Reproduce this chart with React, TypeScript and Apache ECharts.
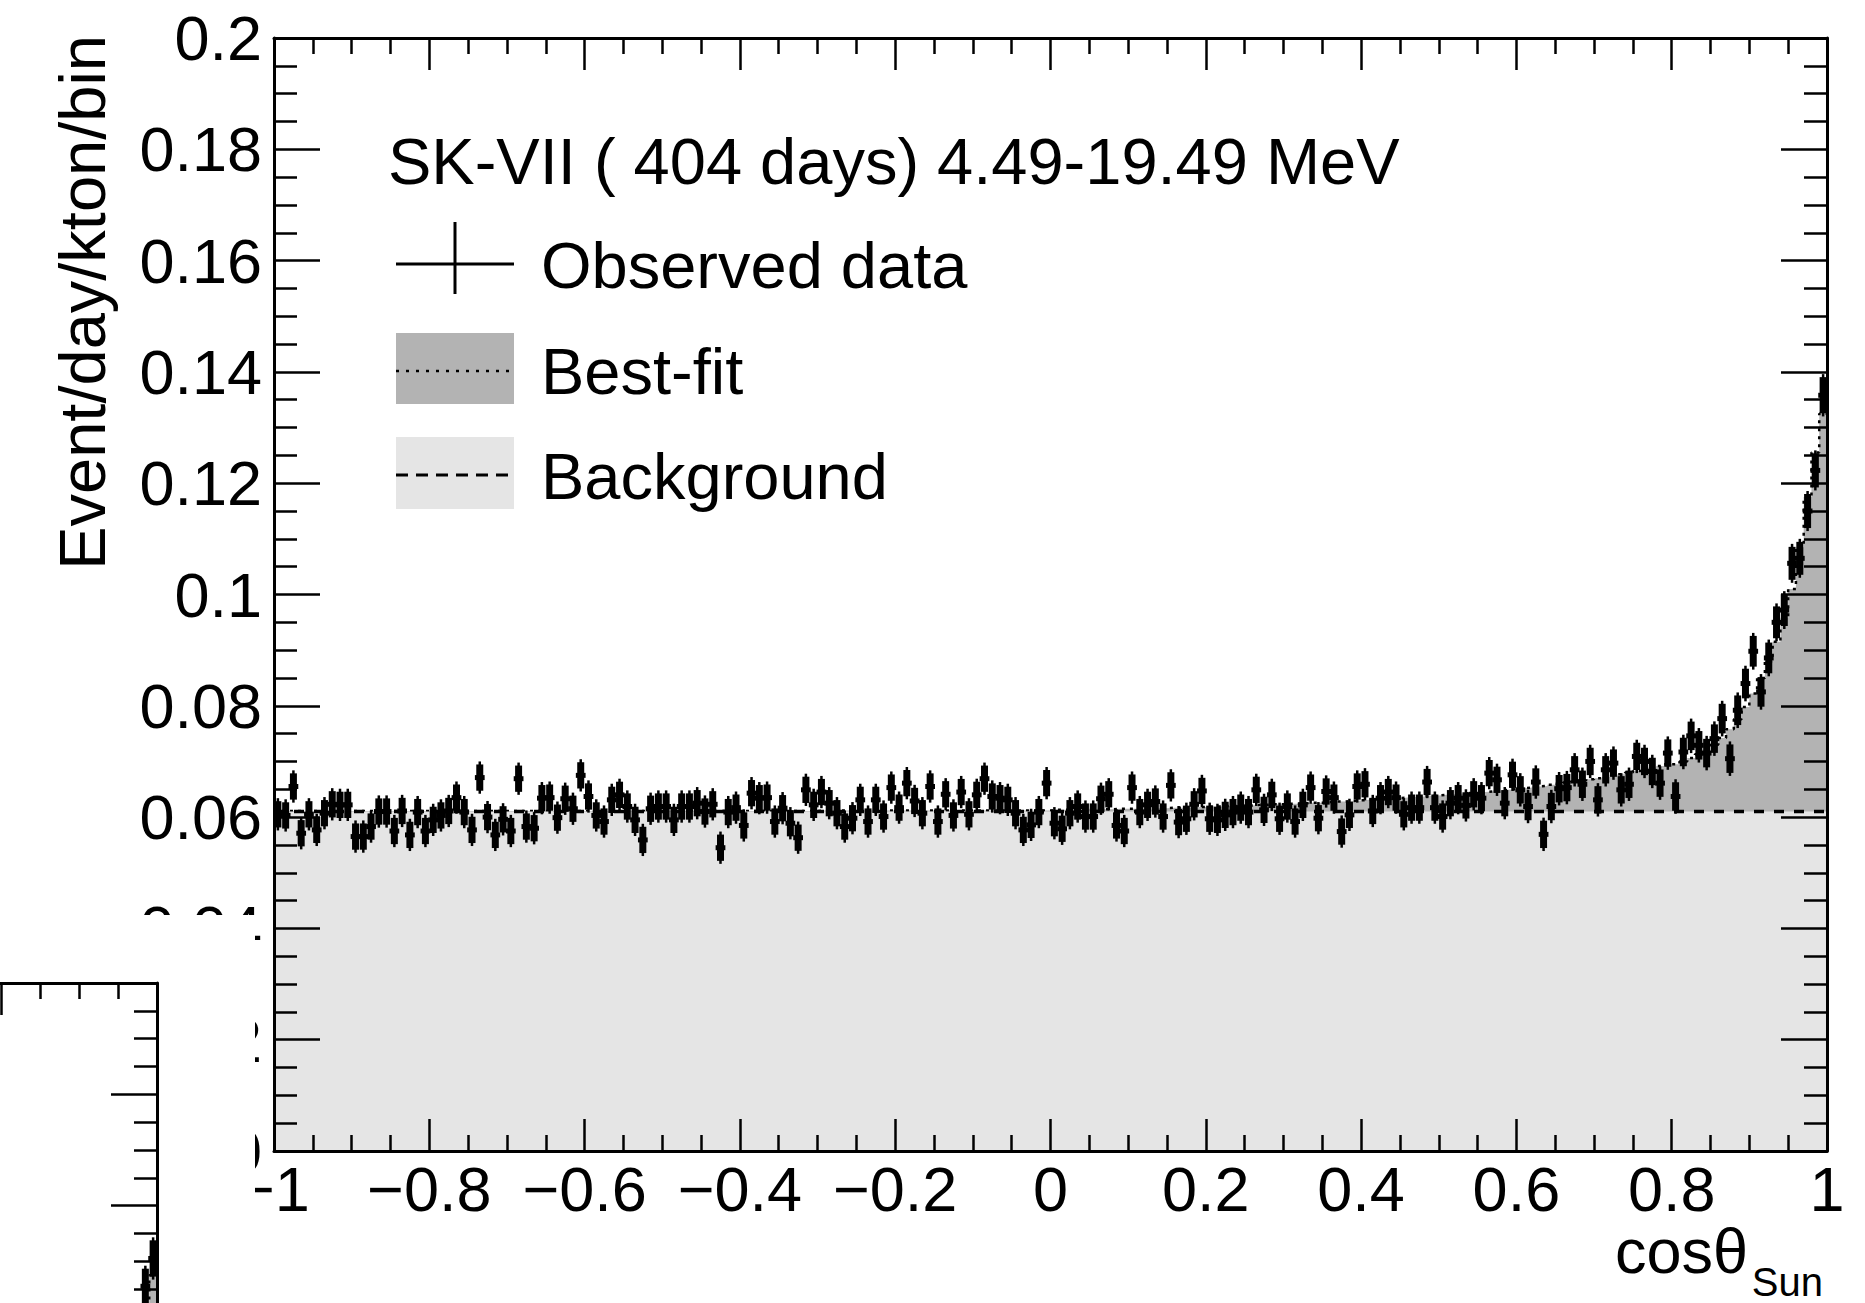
import React, { useEffect, useRef } from "react";
import * as echarts from "echarts";

// ---------------- data ----------------
const BIN_MIN = -1;
const BIN_MAX = 1;
const BIN_WIDTH = 0.01;

// Observed event rate per bin (200 bins from -1 to 1)
const observed = [
  0.0605, 0.0603, 0.0655, 0.0571, 0.0605, 0.0577, 0.0607, 0.0623, 0.0622, 0.0622,
  0.0565, 0.0565, 0.0583, 0.061, 0.061, 0.0575, 0.0611, 0.0568, 0.0609, 0.0575,
  0.0595, 0.0603, 0.0611, 0.0635, 0.0609, 0.0577, 0.0671, 0.06, 0.0568, 0.0596,
  0.0575, 0.0669, 0.0583, 0.058, 0.0634, 0.0635, 0.0599, 0.0633, 0.0615, 0.0675,
  0.0637, 0.0603, 0.0592, 0.0631, 0.064, 0.0619, 0.0595, 0.0559, 0.0615, 0.0619,
  0.0619, 0.0595, 0.0619, 0.0619, 0.0625, 0.061, 0.0623, 0.0545, 0.0609, 0.0617,
  0.0585, 0.0643, 0.0634, 0.0635, 0.0592, 0.0616, 0.0589, 0.0563, 0.0649, 0.0622,
  0.0645, 0.0625, 0.0607, 0.0583, 0.0598, 0.0631, 0.0592, 0.0631, 0.0601, 0.0653,
  0.0617, 0.0661, 0.0629, 0.0607, 0.0655, 0.0592, 0.0641, 0.0603, 0.0645, 0.0605,
  0.064, 0.0669, 0.0637, 0.0634, 0.0631, 0.0607, 0.0577, 0.0586, 0.0609, 0.0661,
  0.0589, 0.0579, 0.0607, 0.0619, 0.0601, 0.0601, 0.0633, 0.0641, 0.0585, 0.0575,
  0.0653, 0.0609, 0.0622, 0.0628, 0.0601, 0.0657, 0.0591, 0.0597, 0.0623, 0.0647,
  0.0597, 0.0595, 0.0604, 0.0609, 0.0617, 0.0609, 0.0649, 0.0613, 0.064, 0.0597,
  0.0619, 0.0592, 0.0622, 0.0653, 0.0598, 0.0646, 0.0635, 0.0574, 0.0604, 0.0655,
  0.0659, 0.0611, 0.0634, 0.0645, 0.0635, 0.0605, 0.0617, 0.0617, 0.0663, 0.0617,
  0.0601, 0.0625, 0.0634, 0.0621, 0.0641, 0.0634, 0.0679, 0.0667, 0.0625, 0.0676,
  0.0649, 0.0619, 0.0663, 0.0569, 0.0619, 0.0651, 0.0653, 0.0685, 0.0659, 0.07,
  0.0631, 0.0685, 0.0697, 0.0649, 0.0659, 0.0709, 0.07, 0.0682, 0.0661, 0.0715,
  0.0637, 0.0717, 0.0746, 0.0729, 0.0715, 0.0741, 0.0777, 0.0705, 0.0792, 0.084,
  0.0898, 0.0825, 0.0886, 0.095, 0.0972, 0.1056, 0.1065, 0.115, 0.1223, 0.1358,
];

// Statistical error (half length of the vertical bar) per bin
const observedError = [
  0.0029, 0.0029, 0.0029, 0.0029, 0.0029, 0.0029, 0.0029, 0.0029, 0.0029, 0.0029,
  0.0029, 0.0029, 0.0029, 0.0029, 0.0029, 0.0029, 0.0029, 0.0029, 0.0029, 0.0029,
  0.0029, 0.0029, 0.0029, 0.0029, 0.0029, 0.0029, 0.0029, 0.0029, 0.0029, 0.0029,
  0.0029, 0.0029, 0.0029, 0.0029, 0.0029, 0.0029, 0.0029, 0.0029, 0.0029, 0.0029,
  0.0029, 0.0029, 0.0029, 0.0029, 0.0029, 0.0029, 0.0029, 0.0029, 0.0029, 0.0029,
  0.0029, 0.0029, 0.0029, 0.0029, 0.0029, 0.0029, 0.0029, 0.0029, 0.0029, 0.0029,
  0.0029, 0.0029, 0.0029, 0.0029, 0.0029, 0.0029, 0.0029, 0.0029, 0.0029, 0.0029,
  0.0029, 0.0029, 0.0029, 0.0029, 0.0029, 0.0029, 0.0029, 0.0029, 0.0029, 0.0029,
  0.0029, 0.0029, 0.0029, 0.0029, 0.0029, 0.0029, 0.0029, 0.0029, 0.0029, 0.0029,
  0.0029, 0.0029, 0.0029, 0.0029, 0.0029, 0.0029, 0.0029, 0.0029, 0.0029, 0.0029,
  0.0029, 0.0029, 0.0029, 0.0029, 0.0029, 0.0029, 0.0029, 0.0029, 0.0029, 0.0029,
  0.0029, 0.0029, 0.0029, 0.0029, 0.0029, 0.0029, 0.0029, 0.0029, 0.0029, 0.0029,
  0.0029, 0.0029, 0.0029, 0.0029, 0.0029, 0.0029, 0.0029, 0.0029, 0.0029, 0.0029,
  0.0029, 0.0029, 0.0029, 0.0029, 0.0029, 0.0029, 0.0029, 0.0029, 0.0029, 0.0029,
  0.0029, 0.0029, 0.0029, 0.0029, 0.0029, 0.0029, 0.0029, 0.0029, 0.0029, 0.0029,
  0.0029, 0.0029, 0.0029, 0.0029, 0.0029, 0.0029, 0.0029, 0.0029, 0.0029, 0.0029,
  0.003, 0.003, 0.003, 0.003, 0.003, 0.003, 0.003, 0.003, 0.003, 0.003,
  0.003, 0.003, 0.003, 0.003, 0.003, 0.003, 0.003, 0.003, 0.003, 0.003,
  0.0031, 0.0031, 0.0031, 0.0031, 0.0031, 0.0031, 0.0032, 0.0031, 0.0032, 0.0032,
  0.0033, 0.0032, 0.0033, 0.0034, 0.0034, 0.0035, 0.0035, 0.0036, 0.0036, 0.0038,
];

// Best-fit (signal + background) histogram per bin
const bestFit = [
  0.0611, 0.0611, 0.0611, 0.0611, 0.0611, 0.0611, 0.0611, 0.0611, 0.0611, 0.0611,
  0.0611, 0.0611, 0.0611, 0.0611, 0.0611, 0.0611, 0.0611, 0.0611, 0.0611, 0.0611,
  0.0611, 0.0611, 0.0611, 0.0611, 0.0611, 0.0611, 0.0611, 0.0611, 0.0611, 0.0611,
  0.0611, 0.0611, 0.0611, 0.0611, 0.0611, 0.0611, 0.0611, 0.0611, 0.0611, 0.0611,
  0.0611, 0.0611, 0.0611, 0.0611, 0.0611, 0.0611, 0.0611, 0.0611, 0.0611, 0.0611,
  0.0611, 0.0611, 0.0611, 0.0611, 0.0611, 0.0611, 0.0611, 0.0611, 0.0611, 0.0611,
  0.0611, 0.0611, 0.0611, 0.0611, 0.0611, 0.0611, 0.0611, 0.0611, 0.0611, 0.0611,
  0.0612, 0.0612, 0.0612, 0.0612, 0.0612, 0.0612, 0.0612, 0.0612, 0.0612, 0.0612,
  0.0612, 0.0612, 0.0612, 0.0612, 0.0612, 0.0612, 0.0612, 0.0612, 0.0612, 0.0612,
  0.0612, 0.0612, 0.0612, 0.0612, 0.0612, 0.0612, 0.0612, 0.0612, 0.0612, 0.0612,
  0.0613, 0.0613, 0.0613, 0.0613, 0.0614, 0.0614, 0.0614, 0.0614, 0.0615, 0.0615,
  0.0615, 0.0615, 0.0616, 0.0616, 0.0616, 0.0617, 0.0617, 0.0617, 0.0618, 0.0618,
  0.0619, 0.0619, 0.062, 0.062, 0.0621, 0.0621, 0.0622, 0.0622, 0.0623, 0.0623,
  0.0624, 0.0624, 0.0625, 0.0626, 0.0626, 0.0627, 0.0628, 0.0628, 0.0629, 0.063,
  0.0631, 0.0632, 0.0632, 0.0633, 0.0634, 0.0635, 0.0636, 0.0637, 0.0638, 0.0639,
  0.064, 0.0641, 0.0642, 0.0643, 0.0644, 0.0645, 0.0646, 0.0648, 0.0649, 0.065,
  0.0652, 0.0653, 0.0655, 0.0656, 0.0658, 0.066, 0.0662, 0.0664, 0.0666, 0.0668,
  0.067, 0.0672, 0.0675, 0.0677, 0.068, 0.0683, 0.0686, 0.0689, 0.0692, 0.0695,
  0.0695, 0.07, 0.0706, 0.0713, 0.0721, 0.073, 0.0742, 0.0758, 0.0776, 0.0798,
  0.0822, 0.085, 0.088, 0.0915, 0.0958, 0.101, 0.1085, 0.1175, 0.1255, 0.1325,
];

// Flat background level
const backgroundLevel = 0.061;

// Fragment of a second, overlapping copy of the plot (bottom-left corner)
const copyBinStart = 0.97;
const copyBestFit = [0.133, 0.14, 0.1475];
const copyObservedStart = 0.98;
const copyObserved = [0.1455, 0.1505];
const copyObservedError = [0.0037, 0.0038];

const titleText = "SK-VII ( 404 days) 4.49-19.49 MeV";
const legendLabels = ["Observed data", "Best-fit", "Background"];
const yAxisTitle = "Event/day/kton/bin";
const xAxisTitle = "cos\u03b8";
const xAxisTitleSub = "Sun";

// ---------------- styling ----------------
const FONT = '"Liberation Sans", Arial, Helvetica, sans-serif';
const DARK_FILL = "#b3b3b3";
const LIGHT_FILL = "#e5e5e5";

function histStep(start: number, values: number[]) {
  const pts: number[][] = values.map((v, i) => [start + i * BIN_WIDTH, v]);
  pts.push([start + values.length * BIN_WIDTH, values[values.length - 1]]);
  return pts;
}

function errorPoints(start: number, values: number[], errs: number[]) {
  return values.map((v, i) => [start + (i + 0.5) * BIN_WIDTH, v, errs[i]]);
}

function renderErrorBar(params: any, api: any) {
  const x = api.value(0);
  const y = api.value(1);
  const e = api.value(2);
  const c = api.coord([x, y]);
  const top = api.coord([x, y + e]);
  const bot = api.coord([x, y - e]);
  const l = api.coord([x - BIN_WIDTH / 2, y]);
  const r = api.coord([x + BIN_WIDTH / 2, y]);
  return {
    type: "group",
    children: [
      {
        type: "line",
        shape: { x1: c[0], y1: top[1], x2: c[0], y2: bot[1] },
        style: { stroke: "#000", lineWidth: 2.5 },
      },
      {
        type: "line",
        shape: { x1: c[0], y1: top[1] + 3, x2: c[0], y2: bot[1] - 3 },
        style: { stroke: "#000", lineWidth: 7 },
      },
      {
        type: "line",
        shape: { x1: l[0] - 1, y1: c[1], x2: r[0] + 1, y2: c[1] },
        style: { stroke: "#000", lineWidth: 5 },
      },
    ],
  };
}

function xAxisDef(gridIndex: number, position: string, showLabel: boolean, z: number) {
  return {
    type: "value",
    gridIndex,
    position,
    min: BIN_MIN,
    max: BIN_MAX,
    interval: 0.2,
    z,
    axisLine: { show: true, onZero: false, lineStyle: { color: "#000", width: 3 } },
    axisTick: { show: true, inside: true, length: 32, lineStyle: { color: "#000", width: 2.5 } },
    minorTick: { show: true, splitNumber: 4, length: 16, lineStyle: { color: "#000", width: 2.5 } },
    splitLine: { show: false },
    minorSplitLine: { show: false },
    axisLabel: showLabel
      ? {
          show: true,
          margin: 6,
          fontSize: 63,
          fontFamily: FONT,
          color: "#000",
          formatter: (v: number) => {
            const r = Math.round(v * 10) / 10;
            return r < 0 ? "\u2212" + String(-r) : String(r);
          },
        }
      : { show: false },
  };
}

function yAxisDef(gridIndex: number, position: string, showLabel: boolean, z: number) {
  return {
    type: "value",
    gridIndex,
    position,
    min: 0,
    max: 0.2,
    interval: 0.02,
    z,
    axisLine: { show: true, onZero: false, lineStyle: { color: "#000", width: 3 } },
    axisTick: { show: true, inside: true, length: 46, lineStyle: { color: "#000", width: 2.5 } },
    minorTick: { show: true, splitNumber: 4, length: 23, lineStyle: { color: "#000", width: 2.5 } },
    splitLine: { show: false },
    minorSplitLine: { show: false },
    axisLabel: showLabel
      ? {
          show: true,
          margin: 12,
          fontSize: 63,
          fontFamily: FONT,
          color: "#000",
          formatter: (v: number) => String(+v.toFixed(2)),
        }
      : { show: false },
  };
}

function buildOption() {
  const textStyle = (text: string, size: number, extra: any = {}) => ({
    text,
    fontSize: size,
    fontFamily: FONT,
    fill: "#000",
    textVerticalAlign: "middle",
    ...extra,
  });

  return {
    animation: false,
    backgroundColor: "#fff",
    grid: [
      { left: 274, top: 38, right: 38, bottom: 152, outerBoundsMode: "none", containLabel: false },
      { left: -1396, top: 983, width: 1553, height: 1113, outerBoundsMode: "none", containLabel: false },
    ],
    xAxis: [
      xAxisDef(0, "bottom", true, 10),
      xAxisDef(0, "top", false, 10),
      xAxisDef(1, "top", false, 110),
    ],
    yAxis: [
      yAxisDef(0, "left", true, 10),
      yAxisDef(0, "right", false, 10),
      yAxisDef(1, "right", false, 110),
    ],
    series: [
      {
        name: "Best-fit",
        type: "line",
        xAxisIndex: 0,
        yAxisIndex: 0,
        step: "end",
        symbol: "none",
        z: 2,
        data: histStep(BIN_MIN, bestFit),
        lineStyle: { color: "#000", width: 2.5, type: [3, 5] },
        areaStyle: { color: DARK_FILL, opacity: 1 },
      },
      {
        name: "Background",
        type: "line",
        xAxisIndex: 0,
        yAxisIndex: 0,
        symbol: "none",
        z: 3,
        data: [
          [BIN_MIN, backgroundLevel],
          [BIN_MAX, backgroundLevel],
        ],
        lineStyle: { color: "#000", width: 3.5, type: [10, 10] },
        areaStyle: { color: LIGHT_FILL, opacity: 1 },
      },
      {
        name: "Observed data",
        type: "custom",
        xAxisIndex: 0,
        yAxisIndex: 0,
        z: 4,
        renderItem: renderErrorBar,
        encode: { x: 0, y: 1 },
        data: errorPoints(BIN_MIN, observed, observedError),
      },
      {
        name: "Best-fit copy",
        type: "line",
        xAxisIndex: 2,
        yAxisIndex: 2,
        step: "end",
        symbol: "none",
        z: 105,
        data: histStep(copyBinStart, copyBestFit),
        lineStyle: { color: "#000", width: 2.5, type: [3, 5] },
        areaStyle: { color: DARK_FILL, opacity: 1 },
      },
      {
        name: "Observed copy",
        type: "custom",
        xAxisIndex: 2,
        yAxisIndex: 2,
        z: 106,
        renderItem: renderErrorBar,
        encode: { x: 0, y: 1 },
        data: errorPoints(copyObservedStart, copyObserved, copyObservedError),
      },
    ],
    graphic: [
      // overlapping white panel in the bottom-left corner
      {
        type: "rect",
        z: 100,
        shape: { x: 0, y: 915, width: 255, height: 400 },
        style: { fill: "#fff" },
      },
      // y-axis title
      {
        type: "text",
        x: 82,
        y: 35,
        rotation: Math.PI / 2,
        style: textStyle(yAxisTitle, 65, { textAlign: "right" }),
      },
      // x-axis title
      {
        type: "text",
        x: 1748,
        y: 1251,
        style: textStyle(xAxisTitle, 63, { textAlign: "right" }),
      },
      {
        type: "text",
        x: 1823,
        y: 1282,
        style: textStyle(xAxisTitleSub, 40, { textAlign: "right" }),
      },
      // legend header
      { type: "text", x: 388, y: 161, style: textStyle(titleText, 65) },
      // observed data marker
      {
        type: "line",
        shape: { x1: 396, y1: 264, x2: 514, y2: 264 },
        style: { stroke: "#000", lineWidth: 3 },
      },
      {
        type: "line",
        shape: { x1: 455, y1: 222, x2: 455, y2: 294 },
        style: { stroke: "#000", lineWidth: 3 },
      },
      { type: "text", x: 541, y: 265, style: textStyle(legendLabels[0], 65) },
      // best-fit marker
      {
        type: "rect",
        shape: { x: 396, y: 333, width: 118, height: 71 },
        style: { fill: DARK_FILL },
      },
      {
        type: "line",
        shape: { x1: 396, y1: 371, x2: 514, y2: 371 },
        style: { stroke: "#000", lineWidth: 2.5, lineDash: [3, 7] },
      },
      { type: "text", x: 541, y: 371, style: textStyle(legendLabels[1], 65) },
      // background marker
      {
        type: "rect",
        shape: { x: 396, y: 437, width: 118, height: 72 },
        style: { fill: LIGHT_FILL },
      },
      {
        type: "line",
        shape: { x1: 396, y1: 475, x2: 514, y2: 475 },
        style: { stroke: "#000", lineWidth: 3, lineDash: [12, 8] },
      },
      { type: "text", x: 541, y: 476, style: textStyle(legendLabels[2], 65) },
    ],
  };
}

export default function App() {
  const ref = useRef<HTMLDivElement>(null);
  useEffect(() => {
    document.body.style.margin = "0";
    const chart = echarts.init(ref.current as HTMLDivElement, null, { renderer: "svg" });
    chart.setOption(buildOption() as any);
    return () => {
      chart.dispose();
    };
  }, []);
  return <div ref={ref} style={{ width: 1865, height: 1303, background: "#fff" }} />;
}
